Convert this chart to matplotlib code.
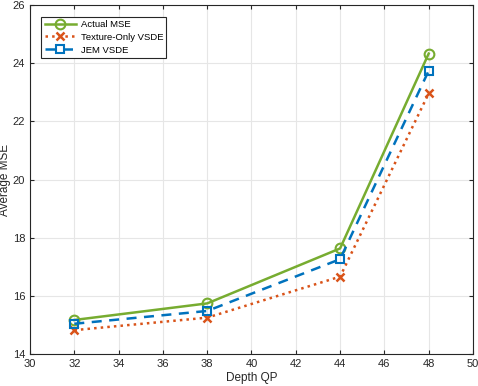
import matplotlib
matplotlib.use("Agg")
import matplotlib.pyplot as plt

plt.rcParams['font.family'] = ['Liberation Sans', 'DejaVu Sans']

depth_qp = [32, 38, 44, 48]
actual_mse = [15.17, 15.74, 17.63, 24.33]
texture_only = [14.82, 15.25, 16.66, 22.96]
jem_vsde = [15.04, 15.48, 17.26, 23.74]

fig = plt.figure(figsize=(4.78, 3.86), dpi=100)
ax = fig.add_axes([0.0628, 0.0829, 0.9267, 0.9041])

ax.plot(depth_qp, actual_mse, '-o', color='#77AC30', lw=1.8, ms=7,
        mfc='none', mew=1.5, label='Actual MSE')
ax.plot(depth_qp, texture_only, ':x', color='#D95319', lw=1.8, ms=5.5,
        mew=1.8, label='Texture-Only VSDE')
ax.plot(depth_qp, jem_vsde, '--s', color='#0072BD', lw=1.8, ms=5.5,
        mfc='none', mew=1.5, dashes=(4, 3), label='JEM VSDE')

ax.set_xlim(30, 50)
ax.set_ylim(14, 26)
ax.set_xticks(range(30, 51, 2))
ax.set_yticks(range(14, 27, 2))
ax.grid(True, color='#e6e6e6', lw=0.8)
ax.set_axisbelow(True)
ax.tick_params(direction='in', length=3, labelsize=8, colors='#262626',
               top=True, right=True)
for s in ax.spines.values():
    s.set_color('#262626')
    s.set_linewidth(0.8)
ax.set_xlabel('Depth QP', fontsize=8.5, color='#262626', labelpad=2)
ax.set_ylabel('Average MSE', fontsize=8.5, color='#262626')
ax.yaxis.set_label_coords(-0.043, 0.5)

leg = ax.legend(loc='upper left', fontsize=6.8, fancybox=False,
                edgecolor='#262626', framealpha=1, handlelength=3.3,
                borderpad=0.35, labelspacing=0.4, handletextpad=0.5,
                bbox_to_anchor=(0.015, 0.98))
leg.get_frame().set_linewidth(0.8)

fig.savefig('out.png', dpi=100)
